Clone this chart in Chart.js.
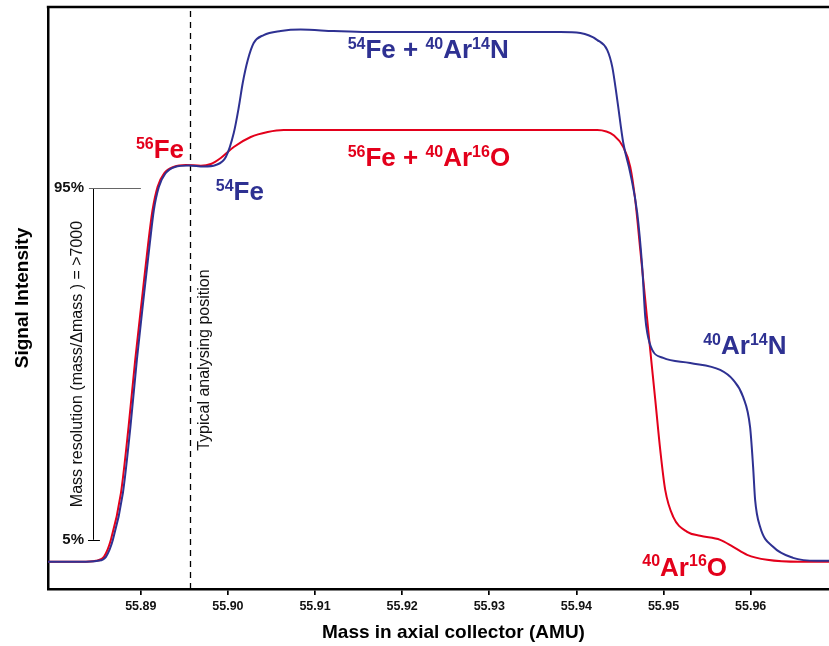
<!DOCTYPE html>
<html>
<head>
<meta charset="utf-8">
<script src="https://cdn.jsdelivr.net/npm/chart.js@4.4.1/dist/chart.umd.min.js"></script>
<style>
  html, body { margin: 0; padding: 0; background: #fff; }
  #wrap { width: 829px; height: 646px; position: relative; }
</style>
</head>
<body>
<div id="wrap"><canvas id="chartMass"></canvas></div>
<script>
// ---------- data (mass in AMU, signal in % of 56Fe peak) ----------
const xTicks = [55.89, 55.90, 55.91, 55.92, 55.93, 55.94, 55.95, 55.96];

// 56Fe + 40Ar16O (red)
const feOMass = [55.87935, 55.88313, 55.88485, 55.88577, 55.88657, 55.88772, 55.8886, 55.88936,
  55.89021, 55.89085, 55.89135, 55.89193, 55.89268, 55.89383, 55.89517, 55.89689, 55.89804,
  55.89918, 55.90067, 55.90262, 55.90457, 55.9064, 55.91981, 55.9424, 55.94343, 55.94423,
  55.94538, 55.94618, 55.94675, 55.94733, 55.9479, 55.94847, 55.94905, 55.94962, 55.95019,
  55.95111, 55.95271, 55.9542, 55.9565, 55.95799, 55.95959, 55.96188, 55.96567, 55.96899];
const feOSignal = [-0.64, -0.64, -0.38, 0.64, 4.99, 16.94, 33.98, 51.05,
  68.12, 80.91, 89.43, 95.39, 98.82, 100.51, 100.95, 100.77, 101.2,
  102.74, 105.55, 108.11, 109.39, 109.9, 109.9, 109.9, 109.52, 108.62,
  105.55, 100.44, 91.99, 79.2, 66.4, 53.61, 40.81, 28.02, 17.78,
  10.88, 7.04, 6.01, 4.99, 3.2, 1.15, -0.13, -0.64, -0.64];

// 54Fe + 40Ar14N (blue)
const feNMass = [55.87935, 55.88313, 55.88508, 55.886, 55.8868, 55.88795, 55.88881, 55.88955,
  55.89039, 55.89104, 55.8915, 55.89207, 55.89282, 55.89391, 55.89551, 55.89723, 55.89861,
  55.89976, 55.90067, 55.90125, 55.9017, 55.90228, 55.90296, 55.90411, 55.90606, 55.90835,
  55.91213, 55.91603, 55.92555, 55.93815, 55.94045, 55.9424, 55.94354, 55.94412, 55.94469,
  55.94538, 55.94618, 55.94698, 55.94755, 55.9479, 55.94813, 55.9487, 55.94996, 55.95306,
  55.9565, 55.95799, 55.95913, 55.95993, 55.96028, 55.96051, 55.96108, 55.96257, 55.96486,
  55.96761, 55.96899];
const feNSignal = [-0.64, -0.64, -0.38, 0.64, 4.99, 17.02, 33.9, 51.05,
  68.19, 80.99, 89.43, 95.32, 98.77, 100.44, 100.82, 100.56, 100.95,
  102.99, 109.13, 115.79, 121.93, 127.81, 132.17, 134.21, 135.24, 135.62,
  135.24, 134.98, 134.98, 134.98, 134.72, 132.93, 130.37, 126.02, 117.58,
  106.58, 98.9, 88.66, 74.85, 62.05, 57.96, 53.61, 51.56, 50.28,
  48.49, 45.93, 41.58, 33.9, 23.67, 15.23, 8.32, 3.2, 0.38,
  -0.38, -0.38];

const analysingPos = 55.8957;    // typical analysing position
const resLevels = [5, 95];       // mass resolution limits (%)

// ---------- styles ----------
const FONT = "'Liberation Sans', Arial, sans-serif";
const RED = '#e3001b';
const BLUE = '#2e3192';

const toPoints = (xs, ys) => xs.map((v, i) => ({ x: v, y: ys[i] }));

// text with superscripts: parts = [[text, isSup], ...]
function supText(ctx, parts, x, y, color, big = 26, small = 16) {
  ctx.fillStyle = color;
  ctx.textAlign = 'left';
  ctx.textBaseline = 'alphabetic';
  let cx = x;
  parts.forEach(([t, sup]) => {
    ctx.font = `bold ${sup ? small : big}px ${FONT}`;
    ctx.fillText(t, cx, sup ? y - big * 0.36 : y);
    cx += ctx.measureText(t).width;
  });
}

// labels (anchor = left end of baseline, in data units)
const peakLabels = [
  { at: [55.88944, 102.74], color: RED,  parts: [['56', 1], ['Fe', 0]] },
  { at: [55.89861, 91.99],  color: BLUE, parts: [['54', 1], ['Fe', 0]] },
  { at: [55.91374, 128.33], color: BLUE, parts: [['54', 1], ['Fe + ', 0], ['40', 1], ['Ar', 0], ['14', 1], ['N', 0]] },
  { at: [55.91374, 100.69], color: RED,  parts: [['56', 1], ['Fe + ', 0], ['40', 1], ['Ar', 0], ['16', 1], ['O', 0]] },
  { at: [55.95455, 52.58],  color: BLUE, parts: [['40', 1], ['Ar', 0], ['14', 1], ['N', 0]] },
  { at: [55.94756, -4.22],  color: RED,  parts: [['40', 1], ['Ar', 0], ['16', 1], ['O', 0]] }
];

const annotations = {
  id: 'annotations',
  beforeDatasetsDraw(chart) {
    const { ctx, chartArea: a, scales: { x } } = chart;
    const px = Math.round(x.getPixelForValue(analysingPos)) + 0.5;
    ctx.save();
    ctx.strokeStyle = '#000';
    ctx.lineWidth = 1.3;
    ctx.setLineDash([6, 5]);
    ctx.beginPath();
    ctx.moveTo(px, a.top + 4);
    ctx.lineTo(px, a.bottom);
    ctx.stroke();
    ctx.restore();
  },
  afterDraw(chart) {
    const { ctx, chartArea: a, scales: { x, y } } = chart;
    ctx.save();

    // top frame line
    ctx.strokeStyle = '#000';
    ctx.lineWidth = 2.5;
    ctx.beginPath();
    ctx.moveTo(a.left - 1.2, a.top);
    ctx.lineTo(chart.width, a.top);
    ctx.stroke();

    // resolution bracket
    const yLo = y.getPixelForValue(resLevels[0]);
    const yHi = y.getPixelForValue(resLevels[1]);
    const bx = Math.round(x.getPixelForValue(55.88452)) + 0.5;
    ctx.lineWidth = 1;
    ctx.strokeStyle = '#000';
    ctx.beginPath();
    ctx.moveTo(bx, yHi); ctx.lineTo(bx, yLo);
    ctx.moveTo(x.getPixelForValue(55.88394), Math.round(yLo) + 0.5);
    ctx.lineTo(x.getPixelForValue(55.88531), Math.round(yLo) + 0.5);
    ctx.stroke();
    ctx.strokeStyle = '#666';
    ctx.beginPath();
    ctx.moveTo(x.getPixelForValue(55.88405), Math.round(yHi) + 0.5);
    ctx.lineTo(x.getPixelForValue(55.89001), Math.round(yHi) + 0.5);
    ctx.stroke();

    ctx.fillStyle = '#111';
    ctx.font = `bold 15px ${FONT}`;
    ctx.textAlign = 'right';
    ctx.textBaseline = 'middle';
    const tx = x.getPixelForValue(55.88348);
    ctx.fillText('95%', tx, yHi);
    ctx.fillText('5%', tx, yLo);

    // rotated notes
    ctx.font = `16px ${FONT}`;
    ctx.textAlign = 'center';
    ctx.save();
    ctx.translate(x.getPixelForValue(55.88279), y.getPixelForValue(50));
    ctx.rotate(-Math.PI / 2);
    ctx.fillText('Mass resolution (mass/\u0394mass ) = >7000', 0, 0);
    ctx.restore();
    ctx.save();
    ctx.translate(x.getPixelForValue(analysingPos) + 14, y.getPixelForValue(51));
    ctx.rotate(-Math.PI / 2);
    ctx.fillText('Typical analysing position', 0, 0);
    ctx.restore();

    // peak labels
    peakLabels.forEach(l => {
      supText(ctx, l.parts, x.getPixelForValue(l.at[0]), y.getPixelForValue(l.at[1]), l.color);
    });

    // x axis title
    ctx.fillStyle = '#000';
    ctx.font = `bold 19px ${FONT}`;
    ctx.textAlign = 'center';
    ctx.textBaseline = 'middle';
    ctx.fillText('Mass in axial collector (AMU)', x.getPixelForValue(55.92589), chart.height - 13);

    ctx.restore();
  }
};

new Chart(document.getElementById('chartMass'), {
  type: 'line',
  data: {
    datasets: [
      {
        label: '54Fe + 40Ar14N',
        data: toPoints(feNMass, feNSignal),
        borderColor: BLUE,
        borderWidth: 2,
        pointRadius: 0,
        cubicInterpolationMode: 'monotone',
        fill: false
      },
      {
        label: '56Fe + 40Ar16O',
        data: toPoints(feOMass, feOSignal),
        borderColor: RED,
        borderWidth: 2,
        pointRadius: 0,
        cubicInterpolationMode: 'monotone',
        fill: false
      }
    ]
  },
  options: {
    responsive: true,
    maintainAspectRatio: false,
    animation: false,
    layout: { padding: { top: 7, left: 0, right: 0, bottom: 0 } },
    plugins: { legend: { display: false }, tooltip: { enabled: false } },
    scales: {
      x: {
        type: 'linear',
        min: 55.87935,
        max: 55.96899,
        afterBuildTicks: s => { s.ticks = xTicks.map(v => ({ value: v })); },
        afterFit: s => { s.height = 57; },
        grid: { drawOnChartArea: false, drawTicks: true, tickLength: 6, color: '#000', lineWidth: 1.7 },
        border: { display: true, color: '#000', width: 2.5 },
        ticks: {
          color: '#111',
          padding: 4,
          maxRotation: 0,
          font: { family: FONT, size: 12.5, weight: 'bold' },
          callback: v => v.toFixed(2)
        }
      },
      y: {
        min: -7.6,
        max: 141.4,
        afterFit: s => { s.width = 48; },
        grid: { display: false },
        border: { display: true, color: '#000', width: 2.5 },
        ticks: { display: false },
        title: {
          display: true,
          text: 'Signal Intensity',
          color: '#000',
          padding: { top: 11, bottom: 0 },
          font: { family: FONT, size: 19, weight: 'bold' }
        }
      }
    }
  },
  plugins: [annotations]
});
</script>
</body>
</html>
